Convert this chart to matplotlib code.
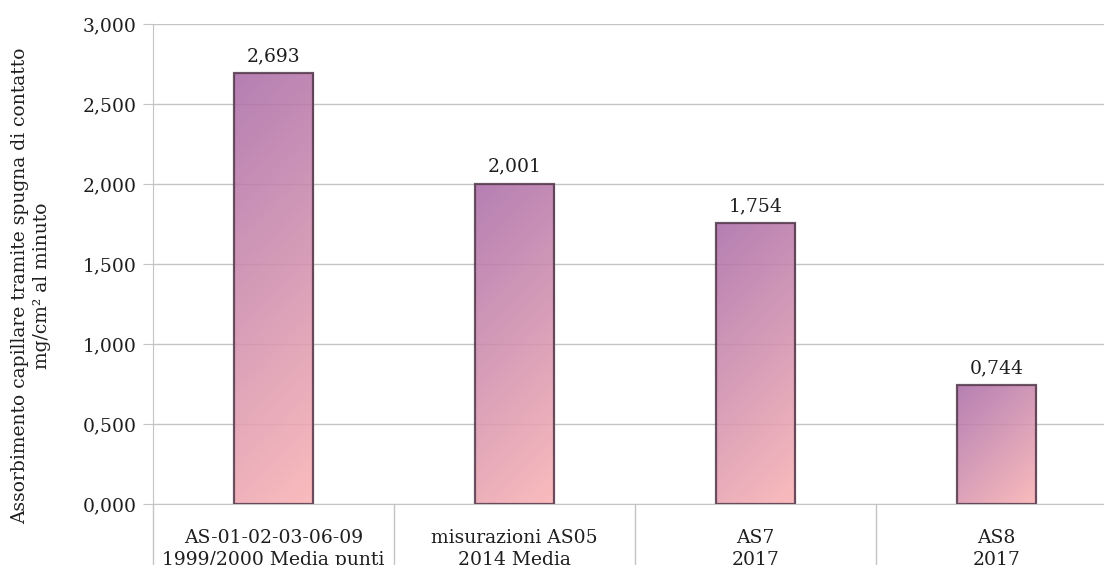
import numpy as np
import matplotlib
matplotlib.use("Agg")
import matplotlib.pyplot as plt
from matplotlib.patches import Rectangle
from matplotlib.colors import LinearSegmentedColormap
from matplotlib.ticker import FuncFormatter, FixedLocator

categories = ["AS-01-02-03-06-09\n1999/2000 Media punti",
              "misurazioni AS05\n2014 Media",
              "AS7\n2017",
              "AS8\n2017"]
values = [2.693, 2.001, 1.754, 0.744]
yticks = [0.0, 0.5, 1.0, 1.5, 2.0, 2.5, 3.0]
ylabel = "Assorbimento capillare tramite spugna di contatto\nmg/cm² al minuto"

plt.rcParams['font.family'] = ['DejaVu Serif']
text_color = "#1e1e1e"
grid_color = "#c4c4c4"
fs = 13.5

fig = plt.figure(figsize=(11.04, 5.65), dpi=100)
W, H = 1104, 565
x0, x1, y0, y1 = 153, 1117, 504, 24
ax = fig.add_axes([x0 / W, 1 - y0 / H, (x1 - x0) / W, (y0 - y1) / H])

ax.set_xlim(-0.5, len(categories) - 0.5)
ax.set_ylim(0, 3.0)

ax.set_axisbelow(True)
ax.yaxis.set_major_locator(FixedLocator(yticks))
ax.grid(axis='y', color=grid_color, linewidth=1.0)
ax.yaxis.set_major_formatter(FuncFormatter(lambda v, p: f"{v:.3f}".replace('.', ',')))

for s in ['top', 'right']:
    ax.spines[s].set_visible(False)
ax.spines['left'].set_color(grid_color)
ax.spines['bottom'].set_color(grid_color)

ax.tick_params(axis='y', length=7, color=grid_color, labelsize=fs, labelcolor=text_color, pad=5)
ax.set_xticks(range(len(categories)))
ax.set_xticklabels(categories, fontsize=fs, color=text_color, linespacing=1.3)
ax.tick_params(axis='x', which='major', length=0, pad=18)
ax.set_xticks(np.arange(-0.5, len(categories), 1.0), minor=True)
ax.tick_params(axis='x', which='minor', length=46, color=grid_color, width=1.0)

cmap = LinearSegmentedColormap.from_list("g", [(171/255, 110/255, 169/255), (250/255, 179/255, 180/255)])

bw = 0.33
px_per_x = (x1 - x0) / len(categories)
px_per_y = (y0 - y1) / 3.0
for i, v in enumerate(values):
    wpx = bw * px_per_x
    hpx = v * px_per_y
    uu, vv = np.meshgrid(np.linspace(0, 1, 100), np.linspace(0, 1, 300))
    grad = (uu * wpx + vv * hpx) / (wpx + hpx)
    rect = Rectangle((i - bw / 2, 0), bw, v, facecolor='none',
                     edgecolor=(0.32, 0.22, 0.29, 0.85), linewidth=1.6, zorder=4)
    ax.add_patch(rect)
    im = ax.imshow(grad, cmap=cmap, extent=(i - bw / 2, i + bw / 2, 0, v),
                   origin='upper', aspect='auto', alpha=0.88, zorder=3,
                   interpolation='bilinear')
    im.set_clip_path(rect)
    ax.text(i, v + 0.05, f"{v:.3f}".replace('.', ','), ha='center', va='bottom',
            fontsize=fs, color=text_color)

ax.set_xlim(-0.5, len(categories) - 0.5)
ax.set_ylim(0, 3.0)

ax.set_ylabel(ylabel, fontsize=fs, color=text_color, linespacing=1.25)
ax.yaxis.label.set_va('center')
ax.yaxis.set_label_coords((31 - x0) / (x1 - x0), (y0 - 286) / (y0 - y1))

fig.savefig("out.png", dpi=100)
